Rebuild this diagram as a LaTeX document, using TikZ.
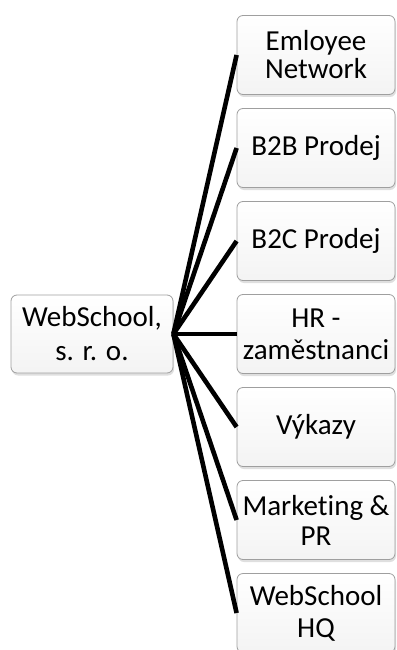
\documentclass[tikz,border=0pt]{standalone}
\usepackage{fontspec}
\setmainfont[Ligatures=NoCommon]{Carlito}
\usetikzlibrary{shadows}
\begin{document}
\begin{tikzpicture}[x=1pt,y=-1pt,
  unitbox/.style={draw=gray!75, line width=0.8pt, rounded corners=6pt,
    top color=white, bottom color=gray!9, shading angle=0,
    drop shadow={opacity=0.25, shadow xshift=1pt, shadow yshift=-2.5pt},
    align=center, inner sep=0pt, font=\fontsize{29}{32}\selectfont},
  rootbox/.style={unitbox, minimum width=162pt, minimum height=78pt},
  leafbox/.style={unitbox, minimum width=158pt, minimum height=79pt},
  link/.style={line width=4.6pt, black}]
\useasboundingbox (0,0) rectangle (396,650);
% root
\node[rootbox, font=\fontsize{29}{34}\selectfont] (root) at (92,334) {WebSchool,\\s. r. o.};
% departments
\node[leafbox, font=\fontsize{29}{28}\selectfont] (n1) at (316,55) {Emloyee\\Network};
\node[leafbox] (n2) at (316,148) {B2B Prodej};
\node[leafbox] (n3) at (316,241) {B2C Prodej};
\node[leafbox] (n4) at (316,334) {HR -\\zaměstnanci};
\node[leafbox] (n5) at (316,427) {Výkazy};
\node[leafbox, font=\fontsize{29}{30}\selectfont] (n6) at (316,520) {Marketing \&\\PR};
\node[leafbox] (n7) at (316,613) {WebSchool\\HQ};
% connectors
\foreach \i in {1,...,7}
  \draw[link] (root.east) -- (n\i.west);
\end{tikzpicture}
\end{document}
